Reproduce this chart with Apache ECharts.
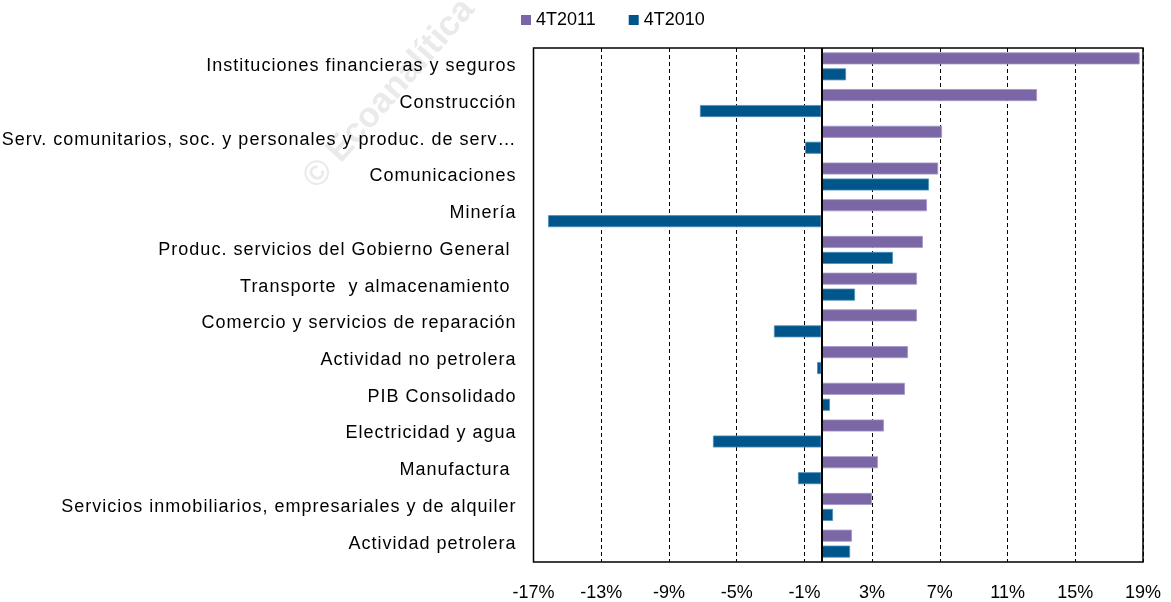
<!DOCTYPE html>
<html>
<head>
<meta charset="utf-8">
<script src="https://cdn.jsdelivr.net/npm/echarts@6/dist/echarts.min.js"></script>
<style>
html,body{margin:0;padding:0;background:#fff;}
#chart{width:1171px;height:602px;}
</style>
</head>
<body>
<div id="chart"></div>
<script>
const categories = [
  "Instituciones financieras y seguros",
  "Construcción",
  "Serv. comunitarios, soc. y personales y produc. de serv…",
  "Comunicaciones",
  "Minería",
  "Produc. servicios del Gobierno General ",
  "Transporte  y almacenamiento ",
  "Comercio y servicios de reparación",
  "Actividad no petrolera",
  "PIB Consolidado",
  "Electricidad y agua",
  "Manufactura ",
  "Servicios inmobiliarios, empresariales y de alquiler",
  "Actividad petrolera"
];
const seriesNames = ["4T2011", "4T2010"];
const values2011 = [18.8, 12.74, 7.13, 6.9, 6.24, 6.0, 5.65, 5.65, 5.12, 4.94, 3.7, 3.34, 2.99, 1.81];
const values2010 = [1.46, -7.17, -0.96, 6.36, -16.14, 4.23, 1.99, -2.8, -0.25, 0.51, -6.4, -1.38, 0.69, 1.7];
const xTicks = [-17, -13, -9, -5, -1, 3, 7, 11, 15, 19];

// Category labels in the reference are drawn with slightly wider letter spacing.
(function () {
  const catSet = new Set(categories);
  const proto = CanvasRenderingContext2D.prototype;
  const origFill = proto.fillText;
  proto.fillText = function (t, x, y, w) {
    const hasLS = 'letterSpacing' in this;
    if (hasLS) this.letterSpacing = catSet.has(t) ? '1px' : '0px';
    if (w === undefined) origFill.call(this, t, x, y); else origFill.call(this, t, x, y, w);
    if (hasLS) this.letterSpacing = '0px';
  };
})();

const FONT = "'Liberation Sans', Arial, sans-serif";
const chart = echarts.init(document.getElementById('chart'));
chart.setOption({
  animation: false,
  backgroundColor: '#fff',
  textStyle: { fontFamily: FONT },
  graphic: [{
    type: 'text',
    x: 310,
    y: 184,
    rotation: 0.85,
    z: -10,
    silent: true,
    style: {
      text: '© Ecoanalítica',
      font: "bold 35px 'Liberation Sans', Arial, sans-serif",
      fill: 'rgba(170,170,170,0.25)',
      textAlign: 'left',
      textVerticalAlign: 'middle'
    }
  }],
  legend: {
    left: 516,
    top: 6,
    itemWidth: 10,
    itemHeight: 10,
    itemGap: 33,
    icon: 'rect',
    itemStyle: { borderWidth: 0 },
    textStyle: { fontSize: 18, color: '#000', fontFamily: FONT },
    data: seriesNames
  },
  grid: {
    left: 533.5,
    right: 28,
    top: 48,
    bottom: 35,
    show: true,
    borderColor: '#000',
    borderWidth: 1.5,
    containLabel: false
  },
  xAxis: {
    type: 'value',
    min: -17,
    max: 19,
    axisLine: { show: false },
    axisTick: { show: false, customValues: xTicks },
    axisLabel: {
      customValues: xTicks,
      formatter: '{value}%',
      fontSize: 18,
      color: '#000',
      margin: 22,
      fontFamily: FONT
    },
    splitLine: {
      show: true,
      lineStyle: { color: '#000', width: 1, type: [4, 3] }
    }
  },
  yAxis: {
    type: 'category',
    inverse: true,
    data: categories,
    axisLine: { show: false },
    axisTick: { show: false },
    axisLabel: { fontSize: 18, color: '#000', margin: 17, fontFamily: FONT },
    splitLine: { show: false }
  },
  series: [
    {
      name: seriesNames[0],
      type: 'bar',
      data: values2011,
      barWidth: 12,
      barGap: '33%',
      itemStyle: { color: '#7B66A6', borderColor: '#a597cc', borderWidth: 0.8 },
      markLine: {
        silent: true,
        symbol: 'none',
        label: { show: false },
        lineStyle: { color: '#000', width: 2, type: 'solid' },
        data: [{ xAxis: 0 }]
      }
    },
    {
      name: seriesNames[1],
      type: 'bar',
      data: values2010,
      barWidth: 12,
      barGap: '33%',
      itemStyle: { color: '#00568A', borderColor: '#4f8fba', borderWidth: 0.8 }
    }
  ]
});
</script>
</body>
</html>
